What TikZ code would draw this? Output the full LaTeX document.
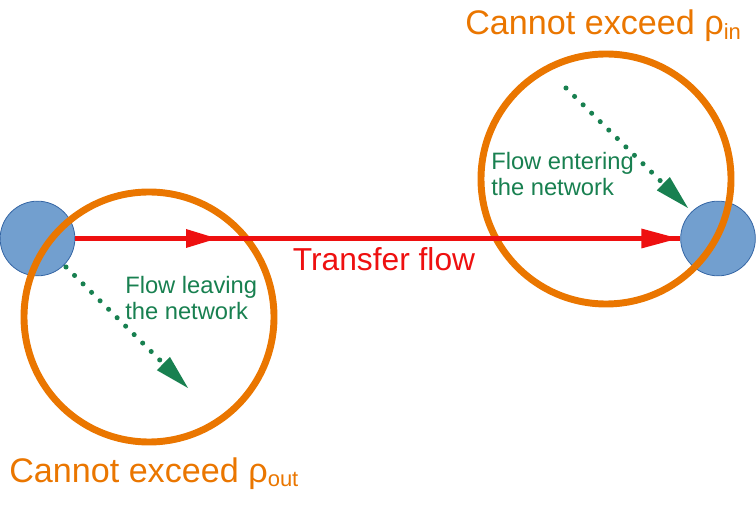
\documentclass[tikz,border=0pt]{standalone}
\usepackage{fontspec}
\setmainfont{Liberation Sans}
\usetikzlibrary{arrows.meta,calc}
\definecolor{ringorange}{RGB}{234,118,0}
\definecolor{flowred}{RGB}{238,16,16}
\definecolor{flowgreen}{RGB}{24,128,80}
\definecolor{nodefill}{RGB}{114,159,207}
\definecolor{nodeedge}{RGB}{52,101,164}
\tikzset{
  netnode/.style={circle,fill=nodefill,draw=nodeedge,line width=0.6pt,minimum size=56pt,inner sep=0pt},
  ring/.style={circle,draw=ringorange,line width=5.2pt,minimum size=187.5pt,inner sep=0pt},
  greenlbl/.style={text=flowgreen,font=\fontsize{17.8}{19.5}\selectfont,align=left,anchor=north west,inner sep=0pt},
  orangelbl/.style={text=ringorange,font=\fontsize{25.6}{28}\selectfont,inner sep=0pt},
  dotarrow/.style={draw=flowgreen,line width=3.8pt,line cap=round,dash pattern=on 0pt off 9pt,shorten >=27pt},
  greenhead/.style={fill=flowgreen,draw=none},
}
\begin{document}
\begin{tikzpicture}[x=0.75pt,y=-0.75pt]
\useasboundingbox (0,0) rectangle (756,516);
% nodes
\node[netnode] (L) at (37.5,238.5) {};
\node[netnode] (R) at (718,238.5) {};
% rings
\node[ring] (RL) at (149,317) {};
\node[ring] (RR) at (606,179) {};
% transfer flow
\coordinate (mid) at (217,238.5);
\draw[flowred,line width=3.8pt] (L.east) -- (R.west);
\fill[flowred] (mid) -- ++(-31,-9.5) -- ++(0,19) -- cycle;
\fill[flowred] (R.west) ++(-2,0) -- ++(-37,-10) -- ++(0,20) -- cycle;
% green dotted arrows
\coordinate (gl0) at (66,267);
\coordinate (gl1) at (188,388);
\coordinate (gr0) at (566,88);
\coordinate (gr1) at (688,208);
\draw[dotarrow] (gl0) -- (gl1);
\draw[dotarrow] (gr0) -- (gr1);
\fill[greenhead] (gl1) -- ($(gl1)!26pt!(gl0)!7pt!90:(gl0)$) -- ($(gl1)!26pt!(gl0)!7pt!-90:(gl0)$) -- cycle;
\fill[greenhead] (gr1) -- ($(gr1)!26pt!(gr0)!7pt!90:(gr0)$) -- ($(gr1)!26pt!(gr0)!7pt!-90:(gr0)$) -- cycle;
% labels
\node[text=flowred,font=\fontsize{23.8}{27}\selectfont,anchor=base,inner sep=0pt] (tf) at (384,271) {Transfer flow};
\node[greenlbl] (lleave) at (125,276) {Flow leaving\\the network};
\node[greenlbl] (lenter) at (491,152) {Flow entering\\the network};
\node[orangelbl,anchor=base west] (cin) at (465,35) {Cannot exceed ρ\textsubscript{\fontsize{16.5}{16.5}\selectfont in}};
\node[orangelbl,anchor=base west] (cout) at (9,482) {Cannot exceed ρ\textsubscript{\fontsize{16.5}{16.5}\selectfont out}};
\end{tikzpicture}
\end{document}
